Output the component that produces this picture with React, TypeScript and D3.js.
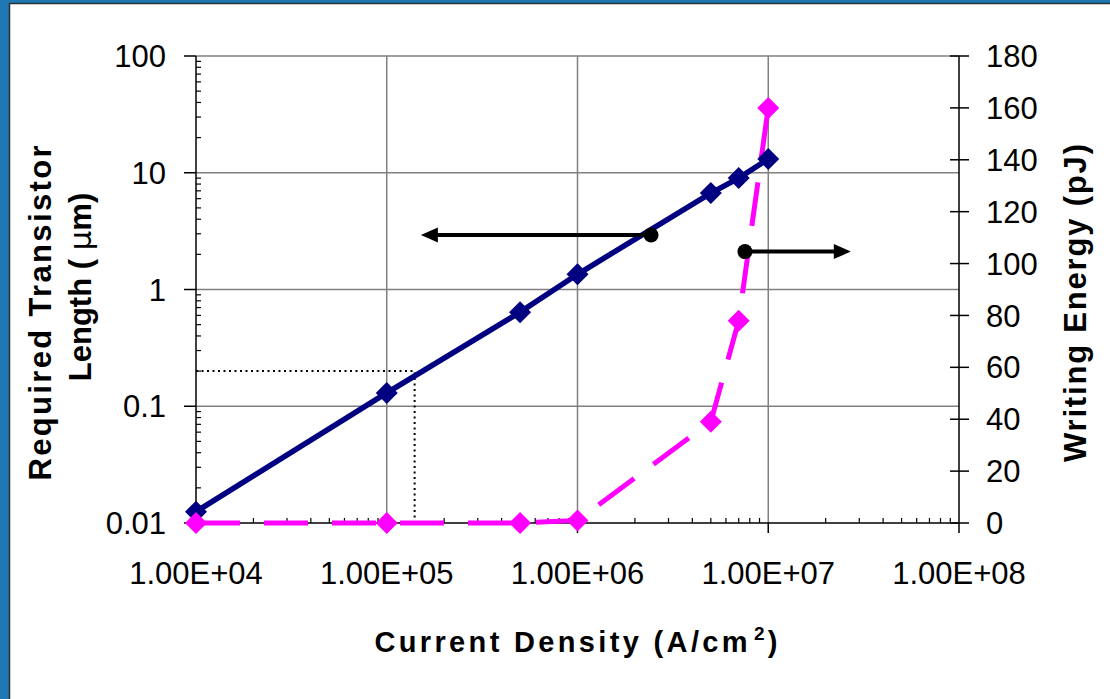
import React from "react";
import * as d3 from "d3";

// ---- data ----
const currentDensity = [1e4, 1e5, 5e5, 1e6, 5e6, 7e6, 1e7];
const transistorLength = [0.0125, 0.13, 0.64, 1.35, 6.7, 9.0, 13.1];
const writingEnergy = [0, 0, 0, 1, 39, 78, 160];

const xTicks = [1e4, 1e5, 1e6, 1e7, 1e8];
const xTickLabels = ["1.00E+04", "1.00E+05", "1.00E+06", "1.00E+07", "1.00E+08"];
const yLeftTicks = [0.01, 0.1, 1, 10, 100];
const yLeftTickLabels = ["0.01", "0.1", "1", "10", "100"];
const yRightTicks = [0, 20, 40, 60, 80, 100, 120, 140, 160, 180];

// guide (dotted) point
const guideX = 1.4e5;
const guideY = 0.2;

// annotation arrows: dot position and arrow tip x
const arrowLeft = { x: 2.43e6, y: 2.93, tipX: 1.51e5 }; // left axis units
const arrowRight = { x: 7.55e6, y: 104.6, tipX: 2.71e7 }; // right axis units

const W = 1110;
const H = 699;
const M = { left: 196, right: 959, top: 56, bottom: 523 };
const FONT = "'Liberation Sans', Arial, sans-serif";

export default function App() {
  const x = d3.scaleLog().domain([1e4, 1e8]).range([M.left, M.right]);
  const yL = d3.scaleLog().domain([0.01, 100]).range([M.bottom, M.top]);
  const yR = d3.scaleLinear().domain([0, 180]).range([M.bottom, M.top]);

  const blueLine = d3
    .line<number>()
    .x((_, i) => x(currentDensity[i]))
    .y((d) => yL(d))(transistorLength) as string;
  const pinkLine = d3
    .line<number>()
    .x((_, i) => x(currentDensity[i]))
    .y((d) => yR(d))(writingEnergy) as string;

  const minorX: number[] = [];
  for (let e = 4; e < 8; e++) for (let k = 2; k <= 9; k++) minorX.push(k * Math.pow(10, e));
  const minorY: number[] = [];
  for (let e = -2; e < 2; e++) for (let k = 2; k <= 9; k++) minorY.push(k * Math.pow(10, e));

  const diamond = (cx: number, cy: number, r: number) =>
    `M${cx},${cy - r}L${cx + r},${cy}L${cx},${cy + r}L${cx - r},${cy}Z`;

  const grid = "#808080";

  return (
    <svg
      width={W}
      height={H}
      style={{ position: "absolute", left: 0, top: 0, background: "#fff" }}
      fontFamily={FONT}
    >
      {/* frame */}
      <rect x={0} y={0} width={W} height={H} fill="#fff" />
      <rect x={0} y={0} width={10} height={H} fill="#1f78b4" />
      <rect x={0} y={0} width={W} height={3} fill="#1f78b4" />
      <line x1={9.5} y1={3} x2={9.5} y2={H} stroke="#263238" strokeWidth={1.5} />
      <line x1={9.5} y1={3.5} x2={W} y2={3.5} stroke="#263238" strokeWidth={1.5} />

      {/* gridlines */}
      {yLeftTicks.slice(1).map((t) => (
        <line key={"gy" + t} x1={M.left} x2={M.right} y1={yL(t)} y2={yL(t)} stroke={grid} strokeWidth={1.5} />
      ))}
      {xTicks.slice(1, 4).map((t) => (
        <line key={"gx" + t} x1={x(t)} x2={x(t)} y1={M.top} y2={M.bottom} stroke={grid} strokeWidth={1.5} />
      ))}

      {/* dotted guides */}
      <path
        d={`M${M.left},${yL(guideY)}H${x(guideX)}V${M.bottom}`}
        fill="none"
        stroke="#000"
        strokeWidth={2}
        strokeDasharray="2 3.5"
      />

      {/* axes */}
      <line x1={M.left} x2={M.left} y1={M.top} y2={M.bottom} stroke="#000" strokeWidth={1.5} />
      <line x1={M.left} x2={M.right} y1={M.bottom} y2={M.bottom} stroke="#000" strokeWidth={1.5} />
      <line x1={M.right} x2={M.right} y1={M.top} y2={M.bottom} stroke="#000" strokeWidth={1.5} />
      {yLeftTicks.map((t) => (
        <line key={"lt" + t} x1={M.left - 12} x2={M.left} y1={yL(t)} y2={yL(t)} stroke="#000" strokeWidth={1.5} />
      ))}
      {minorY.map((t) => (
        <line key={"lm" + t} x1={M.left} x2={M.left + 5} y1={yL(t)} y2={yL(t)} stroke="#000" strokeWidth={1.2} />
      ))}
      {xTicks.map((t) => (
        <line key={"xt" + t} x1={x(t)} x2={x(t)} y1={M.bottom} y2={M.bottom + 10} stroke="#000" strokeWidth={1.5} />
      ))}
      {minorX.map((t) => (
        <line key={"xm" + t} x1={x(t)} x2={x(t)} y1={M.bottom} y2={M.bottom - 5} stroke="#000" strokeWidth={1.2} />
      ))}
      {yRightTicks.map((t) => (
        <line key={"rt" + t} x1={M.right - 9} x2={M.right + 10} y1={yR(t)} y2={yR(t)} stroke="#000" strokeWidth={1.5} />
      ))}

      {/* tick labels */}
      {yLeftTicks.map((t, i) => (
        <text key={"ll" + t} x={166} y={yL(t)} dy="0.36em" textAnchor="end" fontSize={31}>
          {yLeftTickLabels[i]}
        </text>
      ))}
      {yRightTicks.map((t) => (
        <text key={"rl" + t} x={986} y={yR(t)} dy="0.36em" textAnchor="start" fontSize={31}>
          {t}
        </text>
      ))}
      {xTicks.map((t, i) => (
        <text key={"xl" + t} x={x(t)} y={584} textAnchor="middle" fontSize={31}>
          {xTickLabels[i]}
        </text>
      ))}

      {/* series */}
      <path d={pinkLine} fill="none" stroke="#ff00ff" strokeWidth={5} strokeDasharray="44 24" />
      <path d={blueLine} fill="none" stroke="#000080" strokeWidth={5.5} />
      {transistorLength.map((v, i) => (
        <path key={"bm" + i} d={diamond(x(currentDensity[i]), yL(v), 11)} fill="#000080" />
      ))}
      {writingEnergy.map((v, i) => (
        <path key={"pm" + i} d={diamond(x(currentDensity[i]), yR(v), 11)} fill="#ff00ff" />
      ))}

      {/* annotation arrows */}
      <g>
        <line
          x1={x(arrowLeft.x)}
          y1={yL(arrowLeft.y)}
          x2={x(arrowLeft.tipX) + 14}
          y2={yL(arrowLeft.y)}
          stroke="#000"
          strokeWidth={4}
        />
        <path
          d={`M${x(arrowLeft.tipX)},${yL(arrowLeft.y)}l17,-7.5v15Z`}
          fill="#000"
        />
        <circle cx={x(arrowLeft.x)} cy={yL(arrowLeft.y)} r={7.5} fill="#000" />
        <line
          x1={x(arrowRight.x)}
          y1={yR(arrowRight.y)}
          x2={x(arrowRight.tipX) - 14}
          y2={yR(arrowRight.y)}
          stroke="#000"
          strokeWidth={4}
        />
        <path
          d={`M${x(arrowRight.tipX)},${yR(arrowRight.y)}l-17,-7.5v15Z`}
          fill="#000"
        />
        <circle cx={x(arrowRight.x)} cy={yR(arrowRight.y)} r={7.5} fill="#000" />
      </g>

      {/* axis titles */}
      <text x={576} y={652} textAnchor="middle" fontSize={29} fontWeight="bold" textLength={403} lengthAdjust="spacing">
        Current Density (A/cm
        <tspan fontSize={19} dx={3} dy={-12}>2</tspan>
        <tspan dy={12}>)</tspan>
      </text>
      <g transform="translate(40,313) rotate(-90)">
        <text x={0} y={0} dy="0.36em" textAnchor="middle" fontSize={31} fontWeight="bold" textLength={335} lengthAdjust="spacing">
          Required Transistor
        </text>
      </g>
      <g transform="translate(80,287) rotate(-90)">
        <text x={0} y={0} dy="0.36em" textAnchor="middle" fontSize={31} fontWeight="bold">
          Length ( <tspan fontWeight="normal" fontFamily="'DejaVu Sans', sans-serif">μ</tspan>m)
        </text>
      </g>
      <g transform="translate(1075,303) rotate(-90)">
        <text x={0} y={0} dy="0.36em" textAnchor="middle" fontSize={31} fontWeight="bold" textLength={318} lengthAdjust="spacing">
          Writing Energy (pJ)
        </text>
      </g>
    </svg>
  );
}
